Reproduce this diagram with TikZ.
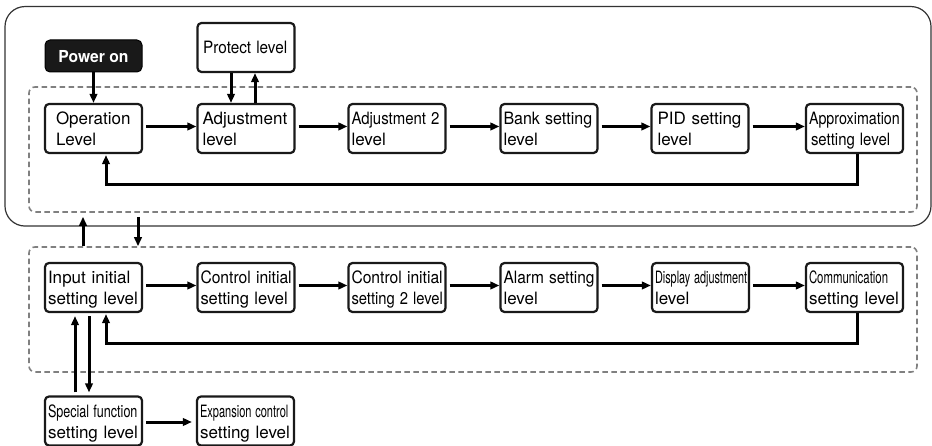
\documentclass[tikz,border=0pt]{standalone}
\usepackage{fontspec}
\setmainfont{TeX Gyre Heros}
\usepackage{graphicx}
\usetikzlibrary{arrows.meta,calc}
\newcommand{\st}{\rule[-4pt]{0pt}{21pt}}
\newcommand{\tline}[2]{\st\scalebox{#1}[1]{#2}}
\begin{document}
\begin{tikzpicture}[x=1pt,y=-1pt,
  lvl/.style={draw=black!90, line width=2.2pt, rounded corners=4pt, fill=white,
    minimum width=97pt, minimum height=49pt, inner xsep=3pt, inner ysep=0pt,
    align=left, text width=91pt, font=\fontsize{17}{21}\selectfont},
  pwrbox/.style={draw=black, fill=black!90, text=white, line width=1pt, rounded corners=5pt,
    minimum width=97pt, minimum height=32pt, inner sep=0pt, font=\fontsize{16.5}{20}\selectfont\bfseries},
  grp/.style={draw=black!50, line width=1.6pt, dash pattern=on 5.5pt off 3.5pt, rounded corners=6pt,
    minimum width=888pt, minimum height=125pt, inner sep=0pt},
  outerbox/.style={draw=black!80, line width=1.2pt, rounded corners=20pt,
    minimum width=926pt, minimum height=219.5pt, inner sep=0pt},
  arr/.style={line width=3pt, -{Triangle[length=9pt,width=7.5pt]}}
]
\useasboundingbox (0,0) rectangle (932,446);
\node[outerbox] (outer) at (468,116.3) {};
\node[grp] (ug) at (473,149.5) {};
\node[grp] (lg) at (473,309.5) {};

% top row
\node[pwrbox] (pwr) at (93.5,56) {\st\scalebox{0.95}[1]{Power on}};
\node[lvl] (prot) at (246,47.5) {\tline{0.9}{\hspace{3pt}Protect level}};
\node[lvl] (op) at (93.5,128.5) {\hspace{8pt}\tline{1}{Operation}\\\hspace{8pt}\tline{1}{Level}};
\node[lvl] (adj) at (246,128.5) {\hspace{2pt}\tline{1}{Adjustment}\\\hspace{2pt}\tline{1}{level}};
\node[lvl] (adj2) at (397,128.5) {\tline{0.88}{Adjustment 2}\\\tline{1}{level}};
\node[lvl] (bank) at (549,128.5) {\tline{0.94}{Bank setting}\\\tline{1}{level}};
\node[lvl] (pid) at (700,128.5) {\hspace{3pt}\tline{1}{PID setting}\\\hspace{3pt}\tline{1}{level}};
\node[lvl] (apx) at (854.5,128.5) {\tline{0.84}{Approximation}\\\hspace{2pt}\tline{0.88}{setting level}};

% bottom row
\node[lvl] (inp) at (93.5,287.5) {\tline{1}{Input initial}\\\tline{1}{setting level}};
\node[lvl] (ci) at (246,287.5) {\tline{0.92}{Control initial}\\\tline{0.97}{setting level}};
\node[lvl] (ci2) at (397,287.5) {\tline{0.92}{Control initial}\\\tline{0.87}{setting 2 level}};
\node[lvl] (alm) at (549,287.5) {\tline{0.91}{Alarm setting}\\\tline{1}{level}};
\node[lvl] (disp) at (700.5,287.5) {\tline{0.64}{Display adjustment}\\\tline{1}{level}};
\node[lvl] (com) at (854.5,287.5) {\tline{0.67}{Communication}\\\tline{1}{setting level}};

\node[lvl] (spc) at (93.5,421) {\tline{0.74}{Special function}\\\tline{1}{setting level}};
\node[lvl] (exp) at (245.5,421) {\tline{0.65}{Expansion control}\\\tline{1}{setting level}};

% arrows top
\draw[arr] (pwr) -- (op);
\draw[arr] ($(prot.south)+(-15,0)$) -- ($(adj.north)+(-15,0)$);
\draw[arr] ($(adj.north)+(9,0)$) -- ($(prot.south)+(9,0)$);
\draw[arr, shorten <=3pt] ($(op.east)+(0,-2)$) -- ($(adj.west)+(0,-2)$);
\draw[arr, shorten <=3pt] ($(adj.east)+(0,-2)$) -- ($(adj2.west)+(0,-2)$);
\draw[arr, shorten <=3pt] ($(adj2.east)+(0,-2)$) -- ($(bank.west)+(0,-2)$);
\draw[arr, shorten <=3pt] ($(bank.east)+(0,-2)$) -- ($(pid.west)+(0,-2)$);
\draw[arr, shorten <=3pt] ($(pid.east)+(0,-2)$) -- ($(apx.west)+(0,-2)$);
\draw[arr, shorten >=1pt] ($(apx.south)+(2.5,0)$) -- ++(0,30) -| ($(op.south)+(12.5,0)$);

% arrows between groups
\coordinate (ua) at ($(inp.north)+(-10.5,0)$);
\coordinate (da) at ($(inp.north)+(44.5,0)$);
\draw[arr, shorten >=4pt] (ua |- lg.north) -- (ua |- ug.south);
\draw[arr, shorten <=4pt] (da |- ug.south) -- (da |- lg.north);

% arrows bottom
\draw[arr, shorten <=3pt] ($(inp.east)+(0,-2)$) -- ($(ci.west)+(0,-2)$);
\draw[arr, shorten <=3pt] ($(ci.east)+(0,-2)$) -- ($(ci2.west)+(0,-2)$);
\draw[arr, shorten <=3pt] ($(ci2.east)+(0,-2)$) -- ($(alm.west)+(0,-2)$);
\draw[arr, shorten <=3pt] ($(alm.east)+(0,-2)$) -- ($(disp.west)+(0,-2)$);
\draw[arr, shorten <=3pt] ($(disp.east)+(0,-2)$) -- ($(com.west)+(0,-2)$);
\draw[arr, shorten >=1pt] ($(com.south)+(2.5,0)$) -- ++(0,30) -| ($(inp.south)+(12.5,0)$);

\draw[arr, shorten <=3pt, shorten >=3pt] ($(spc.north)+(-18.5,0)$) -- ($(inp.south)+(-18.5,0)$);
\draw[arr, shorten <=3pt, shorten >=3pt] ($(inp.south)+(-4.5,0)$) -- ($(spc.north)+(-4.5,0)$);
\draw[arr, shorten <=3pt, shorten >=4pt] ($(spc.east)+(0,1)$) -- ($(exp.west)+(0,1)$);
\end{tikzpicture}
\end{document}
